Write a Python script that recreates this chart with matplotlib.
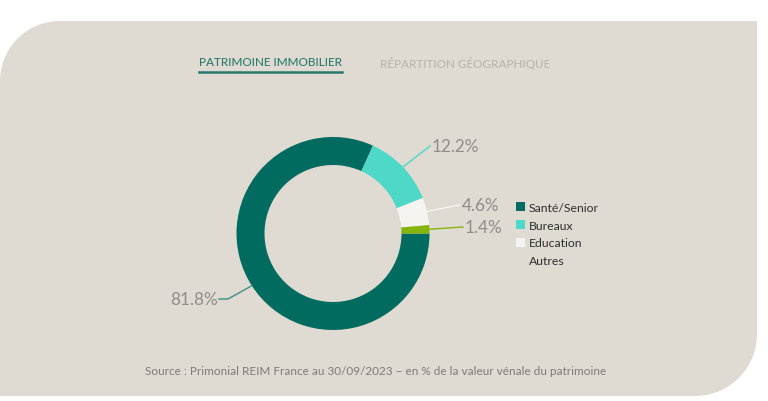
import numpy as np
import matplotlib
matplotlib.use("Agg")
import matplotlib.pyplot as plt
from matplotlib.patches import Polygon, Patch

plt.rcParams['font.family'] = ['Lato', 'DejaVu Sans']

# data
categories = ["Santé/Senior", "Bureaux", "Education", "Autres"]
shares = [81.8, 12.2, 4.6, 1.4]
colors = ["#006b5e", "#4dd8c8", "#f5f4f1", "#86b50a"]
line_colors = ["#3f8f83", "#4dd8c8", "#f5f4f1", "#86b50a"]
tabs = ["PATRIMOINE IMMOBILIER", "RÉPARTITION GÉOGRAPHIQUE"]
source = "Source : Primonial REIM France au 30/09/2023 – en % de la valeur vénale du patrimoine"

W, H = 768, 402
fig = plt.figure(figsize=(W / 100, H / 100), dpi=100)
ax = fig.add_axes([0, 0, 1, 1])

def py(y):
    # pixel row (from top) -> data y
    return H - y

# background panel, rounded top-left and bottom-right
def arc(cx, cy, r, a0, a1, n=40):
    t = np.radians(np.linspace(a0, a1, n))
    return np.column_stack([cx + r * np.cos(t), cy + r * np.sin(t)])

left, right, top, bottom = 0, 757, py(22), py(397)
r1, r2 = 60, 62
pts = np.vstack([
    [[right, top]],
    [[right, bottom + r2]],
    arc(right - r2, bottom + r2, r2, 0, -90),
    [[left, bottom]],
    [[left, top - r1]],
    arc(left + r1, top - r1, r1, 180, 90),
])
ax.add_patch(Polygon(pts, closed=True, facecolor="#dfdbd2", edgecolor="none", zorder=0))

# donut
cx, cy, R = 333, py(234.5), 96.5
wedges, _ = ax.pie(shares, colors=colors, startangle=0, counterclock=False,
                   radius=R, center=(cx, cy), wedgeprops=dict(width=28, linewidth=0))

# labels with leader lines
label_pos = [(218, 300, "right"), (432, 147, "left"), (462, 206, "left"), (465, 228, "left")]
for w, val, lc, (tx, ty, ha) in zip(wedges, shares, line_colors, label_pos):
    mid = np.radians((w.theta1 + w.theta2) / 2)
    x0, y0 = cx + R * np.cos(mid), cy + R * np.sin(mid)
    if ha == "right":
        xs = [x0, tx + 10, tx + 1]
        ys = [y0, py(ty), py(ty)]
    else:
        xs = [x0, tx - 2]
        ys = [y0, py(ty)]
    ax.plot(xs, ys, color=lc, lw=1, zorder=3)
    ax.text(tx, py(ty), f"{val}%", ha=ha, va="center", fontsize=12.3,
            color="#8f8e8a")

# legend
handles = [Patch(facecolor=c, edgecolor="none") for c in colors[:3]]
handles.append(Patch(facecolor="none", edgecolor="none"))
leg = ax.legend(handles, categories, loc="upper left", bbox_to_anchor=(516 / W, 1 - 203 / H),
                frameon=False, fontsize=8.8, handlelength=0.75, handleheight=0.75,
                handletextpad=0.3, labelspacing=0.55, borderaxespad=0, borderpad=0)
for t in leg.get_texts():
    t.set_color("#2f2f2f")

# tabs
ax.text(199, py(63), tabs[0], ha="left", va="center", fontsize=8.5, color="#2a7a6d",
        fontweight="medium")
ax.plot([199, 342], [py(73), py(73)], color="#2a7a6d", lw=1.8)
ax.text(380, py(63), tabs[1], ha="left", va="center", fontsize=8.5, color="#b9b6ae",
        fontweight="medium")

# source
ax.text(376, py(372), source, ha="center", va="center", fontsize=8.45, color="#7d7c78")

ax.set_xlim(0, W)
ax.set_ylim(0, H)
ax.set_aspect("equal")
ax.axis("off")
fig.savefig("out.png", dpi=100, facecolor="white")
